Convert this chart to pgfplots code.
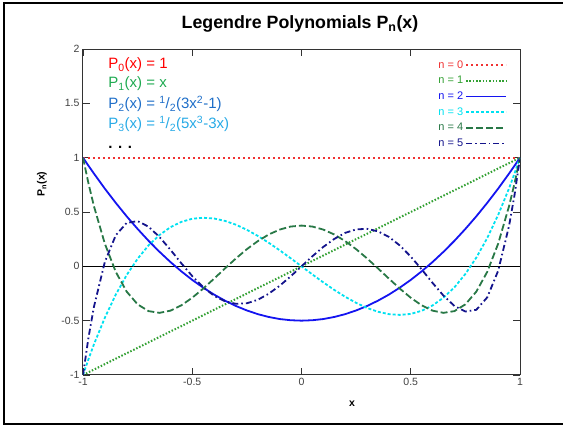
\documentclass[border=0pt]{standalone}
\usepackage{pgfplots}
\pgfplotsset{compat=1.18}
\usepackage{fontspec}
\setmainfont{Liberation Sans}

\definecolor{czero}{RGB}{240,50,50}
\definecolor{cone}{RGB}{50,160,50}
\definecolor{ctwo}{RGB}{20,20,240}
\definecolor{cthree}{RGB}{0,225,240}
\definecolor{cfour}{RGB}{40,120,70}
\definecolor{cfive}{RGB}{20,20,140}
\definecolor{tone}{RGB}{30,170,80}
\definecolor{ttwo}{RGB}{30,110,200}
\definecolor{tthree}{RGB}{40,170,230}

\begin{document}
\begin{tikzpicture}
\useasboundingbox (-83pt,-51pt) rectangle (480pt,375pt);
\draw[line width=2pt] (-79pt,-49pt) rectangle (490pt,372pt);

\begin{axis}[
    scale only axis,
    width=437pt, height=326pt,
    xmin=-1, xmax=1, ymin=-1, ymax=2,
    axis line style={line width=1pt, black!80},
    tick style={line width=0.8pt, black!80},
    major tick length=7pt,
    tick align=inside,
    xtick={-1,-0.5,0,0.5,1},
    xticklabels={-1,-0.5,0,0.5,1},
    ytick={-1,-0.5,0,0.5,1,1.5,2},
    yticklabels={-1,-0.5,0,0.5,1,1.5,2},
    tick label style={font=\fontsize{10.5}{12}\selectfont, text=black!75},
    legend cell align=right,
    legend plot pos=right,
    legend style={at={(rel axis cs:0.978,0.978)}, anchor=north east, draw=none, fill=none,
        font=\fontsize{11}{13}\selectfont, row sep=2.6pt},
    legend image code/.code={\draw[#1] (0pt,0pt) -- (40pt,0pt);},
]
\addplot[black, line width=1.3pt, forget plot] coordinates {(-1,0) (1,0)};

\addplot[czero, line width=2pt, dash pattern=on 1.6pt off 3.4pt] coordinates {(-1,1) (1,1)};
\addlegendentry{\textcolor{czero}{n = 0}}

\addplot[cone, line width=2pt, dash pattern=on 1.5pt off 1.8pt] coordinates {(-1,-1) (1,1)};
\addlegendentry{\textcolor{cone}{n = 1}}

\addplot[ctwo, line width=1.8pt] coordinates {
(-1,1) (-0.975,0.926) (-0.95,0.854) (-0.9,0.715) (-0.85,0.584) (-0.8,0.46)
(-0.75,0.344) (-0.7,0.235) (-0.65,0.134) (-0.6,0.04) (-0.55,-0.046) (-0.5,-0.125)
(-0.45,-0.196) (-0.4,-0.26) (-0.35,-0.316) (-0.3,-0.365) (-0.25,-0.406) (-0.2,-0.44)
(-0.15,-0.466) (-0.1,-0.485) (-0.05,-0.496) (0,-0.5) (0.05,-0.496) (0.1,-0.485)
(0.15,-0.466) (0.2,-0.44) (0.25,-0.406) (0.3,-0.365) (0.35,-0.316) (0.4,-0.26)
(0.45,-0.196) (0.5,-0.125) (0.55,-0.046) (0.6,0.04) (0.65,0.134) (0.7,0.235)
(0.75,0.344) (0.8,0.46) (0.85,0.584) (0.9,0.715) (0.95,0.854) (0.975,0.926) (1,1)
};
\addlegendentry{\textcolor{ctwo}{n = 2}}

\addplot[cthree, line width=1.8pt, dash pattern=on 3pt off 2pt] coordinates {
(-1,-1) (-0.975,-0.855) (-0.95,-0.718) (-0.9,-0.473) (-0.85,-0.26) (-0.8,-0.08)
(-0.75,0.07) (-0.7,0.193) (-0.65,0.288) (-0.6,0.36) (-0.55,0.409) (-0.5,0.438)
(-0.45,0.447) (-0.4,0.44) (-0.35,0.418) (-0.3,0.383) (-0.25,0.336) (-0.2,0.28)
(-0.15,0.217) (-0.1,0.148) (-0.05,0.075) (0,0) (0.05,-0.075) (0.1,-0.148)
(0.15,-0.217) (0.2,-0.28) (0.25,-0.336) (0.3,-0.383) (0.35,-0.418) (0.4,-0.44)
(0.45,-0.447) (0.5,-0.438) (0.55,-0.409) (0.6,-0.36) (0.65,-0.288) (0.7,-0.193)
(0.75,-0.07) (0.8,0.08) (0.85,0.26) (0.9,0.473) (0.95,0.718) (0.975,0.855) (1,1)
};
\addlegendentry{\textcolor{cthree}{n = 3}}

\addplot[cfour, line width=1.8pt, dash pattern=on 7pt off 3pt] coordinates {
(-1,1) (-0.975,0.764) (-0.95,0.554) (-0.9,0.208) (-0.85,-0.051) (-0.8,-0.233)
(-0.75,-0.35) (-0.7,-0.412) (-0.65,-0.428) (-0.6,-0.408) (-0.55,-0.359) (-0.5,-0.289)
(-0.45,-0.205) (-0.4,-0.113) (-0.35,-0.019) (-0.3,0.073) (-0.25,0.158) (-0.2,0.232)
(-0.15,0.293) (-0.1,0.338) (-0.05,0.366) (0,0.375) (0.05,0.366) (0.1,0.338)
(0.15,0.293) (0.2,0.232) (0.25,0.158) (0.3,0.073) (0.35,-0.019) (0.4,-0.113)
(0.45,-0.205) (0.5,-0.289) (0.55,-0.359) (0.6,-0.408) (0.65,-0.428) (0.7,-0.412)
(0.75,-0.35) (0.8,-0.233) (0.85,-0.051) (0.9,0.208) (0.95,0.554) (0.975,0.764) (1,1)
};
\addlegendentry{\textcolor{cfour}{n = 4}}

\addplot[cfive, line width=1.8pt, dash pattern=on 6pt off 3pt on 1.6pt off 3pt] coordinates {
(-1,-1) (-0.975,-0.657) (-0.95,-0.373) (-0.9,0.041) (-0.85,0.286) (-0.8,0.4)
(-0.75,0.416) (-0.7,0.365) (-0.65,0.27) (-0.6,0.153) (-0.55,0.028) (-0.5,-0.09)
(-0.45,-0.192) (-0.4,-0.271) (-0.35,-0.322) (-0.3,-0.345) (-0.25,-0.34) (-0.2,-0.308)
(-0.15,-0.252) (-0.1,-0.179) (-0.05,-0.093) (0,0) (0.05,0.093) (0.1,0.179)
(0.15,0.252) (0.2,0.308) (0.25,0.34) (0.3,0.345) (0.35,0.322) (0.4,0.271)
(0.45,0.192) (0.5,0.09) (0.55,-0.028) (0.6,-0.153) (0.65,-0.27) (0.7,-0.365)
(0.75,-0.416) (0.8,-0.4) (0.85,-0.286) (0.9,-0.041) (0.95,0.373) (0.975,0.657) (1,1)
};
\addlegendentry{\textcolor{cfive}{n = 5}}

\node[anchor=west, text=red, font=\fontsize{15}{17}\selectfont] at (axis cs:-0.9,1.853) {P\textsubscript{0}(x) = 1};
\node[anchor=west, text=tone, font=\fontsize{15}{17}\selectfont] at (axis cs:-0.9,1.678) {P\textsubscript{1}(x) = x};
\node[anchor=west, text=ttwo, font=\fontsize{15}{17}\selectfont] at (axis cs:-0.9,1.494) {P\textsubscript{2}(x) = \textsuperscript{1}/\textsubscript{2}(3x\textsuperscript{2}-1)};
\node[anchor=west, text=tthree, font=\fontsize{15}{17}\selectfont] at (axis cs:-0.9,1.31) {P\textsubscript{3}(x) = \textsuperscript{1}/\textsubscript{2}(5x\textsuperscript{3}-3x)};
\node[anchor=west, font=\fontsize{15}{17}\selectfont\bfseries] at (axis cs:-0.9,1.098) {. . .};
\end{axis}

\node[font=\fontsize{17.8}{20}\selectfont\bfseries] at (217pt,351pt) {Legendre Polynomials P\textsubscript{n}(x)};
\node[rotate=90, font=\fontsize{10.5}{12}\selectfont\bfseries] at (-41pt,191pt) {P\textsubscript{n}(x)};
\node[font=\fontsize{10.5}{12}\selectfont\bfseries] at (269pt,-29pt) {x};
\end{tikzpicture}
\end{document}
